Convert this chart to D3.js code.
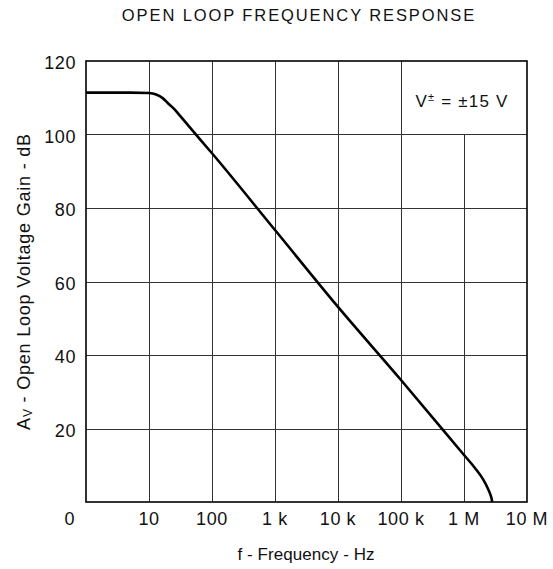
<!DOCTYPE html>
<html>
<head>
<meta charset="utf-8">
<script src="https://cdn.jsdelivr.net/npm/d3@7"></script>
<style>
  body { margin: 0; background: #fff; }
  text { font-family: "Liberation Sans", Arial, sans-serif; fill: #111; }
</style>
</head>
<body>
<svg id="chart" width="553" height="569"></svg>
<script>
// values
const freqHz = [1, 5, 10, 13, 16.5, 20, 25, 30, 50, 100, 1e3, 1e4, 1e5, 1e6, 1.5e6, 2.0e6, 2.4e6, 2.65e6, 2.75e6, 2.8e6];
const gainDb = [111.4, 111.4, 111.3, 110.9, 109.9, 108.5, 107.0, 105.4, 100.9, 94.9, 74.0, 53.1, 33.2, 12.8, 9.2, 6.2, 3.6, 1.8, 0.8, 0];

const xTicks = [1, 10, 100, 1e3, 1e4, 1e5, 1e6, 1e7];
const xTickLabels = ["0", "10", "100", "1 k", "10 k", "100 k", "1 M", "10 M"];
const yTicks = [0, 20, 40, 60, 80, 100, 120];
const yTickLabels = ["", "20", "40", "60", "80", "100", "120"];

const svg = d3.select("#chart");
const plotLeft = 86, plotRight = 527, plotTop = 61, plotBottom = 502;

const x = d3.scaleLog().domain([1, 1e7]).range([plotLeft, plotRight]);
const y = d3.scaleLinear().domain([0, 120]).range([plotBottom, plotTop]);

// title
svg.append("text")
    .attr("x", 299).attr("y", 21)
    .attr("text-anchor", "middle")
    .attr("font-size", 16.5)
    .attr("letter-spacing", 1.9)
    .text("OPEN LOOP FREQUENCY RESPONSE");

// grid
const grid = svg.append("g").attr("stroke", "#333").attr("stroke-width", 1);
xTicks.slice(1, -1).forEach(v => {
    const px = Math.round(x(v)) + 0.5;
    // the 1 M line stops under the supply-voltage label box
    const y0 = v === 1e6 ? y(100) : plotTop;
    grid.append("line").attr("x1", px).attr("x2", px).attr("y1", y0).attr("y2", plotBottom);
});
yTicks.slice(1, -1).forEach(v => {
    const py = Math.round(y(v)) + 0.5;
    grid.append("line").attr("x1", plotLeft).attr("x2", plotRight).attr("y1", py).attr("y2", py);
});

// frame
svg.append("rect")
    .attr("x", plotLeft).attr("y", plotTop)
    .attr("width", plotRight - plotLeft).attr("height", plotBottom - plotTop)
    .attr("fill", "none").attr("stroke", "#000").attr("stroke-width", 1.6);

// curve
const pts = freqHz.map((f, i) => [f, gainDb[i]]);
const line = d3.line()
    .x(d => x(d[0]))
    .y(d => y(d[1]))
    .curve(d3.curveMonotoneX);
svg.append("path")
    .datum(pts)
    .attr("d", line)
    .attr("fill", "none")
    .attr("stroke", "#000")
    .attr("stroke-width", 2.6)
    .attr("stroke-linejoin", "round");

// x tick labels
svg.append("g").selectAll("text")
    .data(xTicks)
    .enter().append("text")
    .attr("x", (d, i) => i === 0 ? x(d) - 11 : x(d))
    .attr("y", 525)
    .attr("text-anchor", (d, i) => i === 0 ? "end" : "middle")
    .attr("font-size", 18)
    .attr("letter-spacing", 0.6)
    .text((d, i) => xTickLabels[i]);

// y tick labels
svg.append("g").selectAll("text")
    .data(yTicks)
    .enter().append("text")
    .attr("x", 76)
    .attr("y", d => y(d) + 8)
    .attr("text-anchor", "end")
    .attr("font-size", 18)
    .attr("letter-spacing", 0.6)
    .text((d, i) => yTickLabels[i]);

// axis titles
svg.append("text")
    .attr("x", 306).attr("y", 560)
    .attr("text-anchor", "middle")
    .attr("font-size", 17)
    .attr("textLength", 137)
    .attr("lengthAdjust", "spacing")
    .text("f - Frequency - Hz");

const yTitle = svg.append("text")
    .attr("transform", "translate(30," + ((plotTop + plotBottom) / 2) + ") rotate(-90)")
    .attr("text-anchor", "middle")
    .attr("font-size", 18)
    .attr("letter-spacing", 0.8);
yTitle.append("tspan").text("A");
yTitle.append("tspan").attr("font-size", 12).attr("dy", 2).text("V");
yTitle.append("tspan").attr("dy", -2).text(" - Open Loop Voltage Gain - dB");

// supply label
const note = svg.append("text")
    .attr("x", 462).attr("y", 107)
    .attr("text-anchor", "middle")
    .attr("font-size", 17)
    .attr("letter-spacing", 1.2);
note.append("tspan").text("V");
note.append("tspan").attr("font-size", 11).attr("dy", -6).text("±");
note.append("tspan").attr("dy", 6).text(" = ±15 V");
</script>
</body>
</html>
